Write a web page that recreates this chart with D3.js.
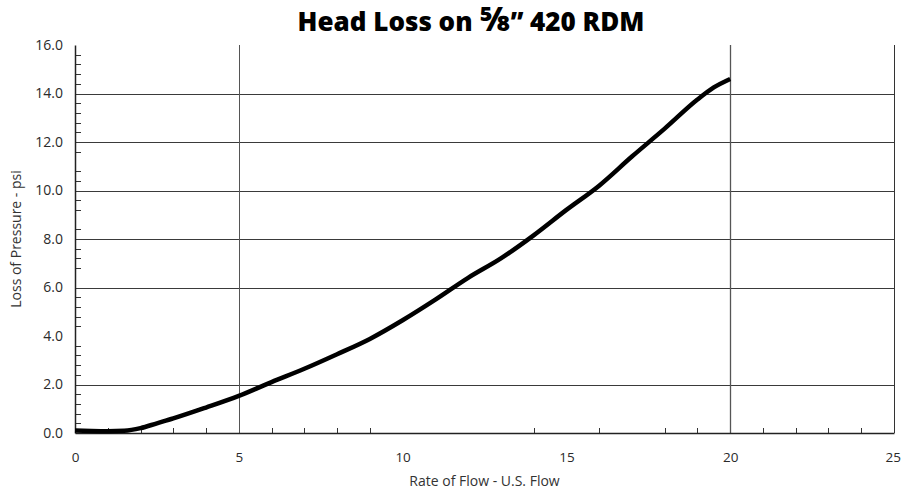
<!DOCTYPE html>
<html lang="en">
<head>
    <meta charset="UTF-8">
    <title>Head Loss on 5/8 420 RDM</title>
    <script src="https://d3js.org/d3.v7.min.js"></script>
    <style>
        body, html {
            margin: 0;
            padding: 0;
            background: #fff;
            overflow: hidden;
            font-family: "Open Sans", "Noto Sans", Arial, sans-serif;
        }
        svg { display: block; }
    </style>
</head>
<body>
    <div id="chart"></div>

    <script>
        // Data
        const flow = [0, 0.5, 1, 1.5, 2, 2.5, 3, 4, 5, 6, 7, 8, 9, 10, 11, 12, 13, 14, 15, 16, 17, 18, 19, 19.5, 20];
        const loss = [0.1, 0.08, 0.07, 0.09, 0.2, 0.4, 0.6, 1.05, 1.53, 2.1, 2.65, 3.25, 3.88, 4.65, 5.5, 6.4, 7.2, 8.15, 9.2, 10.2, 11.4, 12.55, 13.75, 14.25, 14.6];

        const xTickLabels = [0, 5, 10, 15, 20, 25];
        const yTickLabels = [0, 2, 4, 6, 8, 10, 12, 14, 16];
        const xGridValues = [5, 20, 25];
        const yGridValues = [2, 6, 8, 10, 12, 14];
        const xMinorTicks = [1, 2, 3, 4, 6, 7, 8, 9, 14, 16, 18, 19, 21, 22, 23, 24];
        const yMinorTicks = [0.4, 0.8, 1.2, 1.6, 2.4, 2.8, 3.2, 3.6, 4.4, 4.8, 5.2, 5.6,
            6.8, 7.2, 7.6, 8.4, 9.2, 9.6, 10.4, 10.8, 11.6, 12.4, 12.8, 13.2, 13.6,
            14.4, 14.8, 15.2, 15.6];

        const width = 901, height = 492;
        const margin = {top: 45, right: 7, bottom: 59, left: 75};
        const innerWidth = width - margin.left - margin.right;
        const innerHeight = height - margin.top - margin.bottom;
        const font = "'Open Sans', 'Noto Sans', sans-serif";

        const svg = d3.select("#chart").append("svg")
            .attr("width", width)
            .attr("height", height);

        const g = svg.append("g")
            .attr("transform", `translate(${margin.left},${margin.top})`);

        const x = d3.scaleLinear().domain([0, 25]).range([0, innerWidth]);
        const y = d3.scaleLinear().domain([0, 16]).range([innerHeight, 0]);

        // gridlines
        g.selectAll(".hgrid")
            .data(yGridValues)
            .enter().append("line")
            .attr("x1", 0)
            .attr("x2", innerWidth)
            .attr("y1", d => Math.round(y(d)) + 0.5)
            .attr("y2", d => Math.round(y(d)) + 0.5)
            .attr("stroke", "#3a3a3a")
            .attr("stroke-width", 1);

        g.selectAll(".vgrid")
            .data(xGridValues)
            .enter().append("line")
            .attr("x1", d => Math.round(x(d)) + 0.5)
            .attr("x2", d => Math.round(x(d)) + 0.5)
            .attr("y1", 0)
            .attr("y2", innerHeight)
            .attr("stroke", d => d === 25 ? "#333" : "#555")
            .attr("stroke-width", d => d === 20 ? 1.3 : 1);

        // minor ticks (pointing inward)
        g.selectAll(".xminor")
            .data(xMinorTicks)
            .enter().append("line")
            .attr("x1", d => Math.round(x(d)) + 0.5)
            .attr("x2", d => Math.round(x(d)) + 0.5)
            .attr("y1", innerHeight)
            .attr("y2", innerHeight - 5)
            .attr("stroke", "#333")
            .attr("stroke-width", 1);

        g.selectAll(".yminor")
            .data(yMinorTicks)
            .enter().append("line")
            .attr("x1", 0)
            .attr("x2", 6)
            .attr("y1", d => Math.round(y(d)) + 0.5)
            .attr("y2", d => Math.round(y(d)) + 0.5)
            .attr("stroke", "#333")
            .attr("stroke-width", 1);

        // axes
        const xAxis = g.append("g")
            .attr("transform", `translate(0,${innerHeight})`)
            .call(d3.axisBottom(x).tickValues(xTickLabels).tickSize(0).tickPadding(19).tickFormat(d3.format("d")))
            .attr("font-family", font)
            .attr("font-size", 13.5);
        const yAxis = g.append("g")
            .call(d3.axisLeft(y).tickValues(yTickLabels).tickSize(0).tickPadding(12).tickFormat(d3.format(".1f")))
            .attr("font-family", font)
            .attr("font-size", 14);

        // last label sits on the page edge: keep it inside
        xAxis.selectAll("text").filter(d => d === 25)
            .attr("text-anchor", "end")
            .attr("x", margin.right - 0.5);
        [xAxis, yAxis].forEach(a => {
            a.select(".domain").attr("stroke", "#222").attr("stroke-width", 1.5);
            a.selectAll("text").attr("fill", "#2a2a2a");
        });

        // curve
        const line = d3.line()
            .x((d, i) => x(flow[i]))
            .y(d => y(d))
            .curve(d3.curveMonotoneX);

        g.append("path")
            .datum(loss)
            .attr("fill", "none")
            .attr("stroke", "#000")
            .attr("stroke-width", 4.5)
            .attr("stroke-linejoin", "round")
            .attr("d", line);

        // title
        const title = svg.append("text")
            .attr("x", 471)
            .attr("y", 31)
            .attr("text-anchor", "middle")
            .attr("font-family", font)
            .attr("font-size", 26)
            .attr("font-weight", 800)
            .attr("fill", "#000");
        title.append("tspan").text("Head Loss on ");
        title.append("tspan").attr("font-size", 33).text("\u215D");
        title.append("tspan").text("\u201D 420 RDM");

        // axis titles
        svg.append("text")
            .attr("x", margin.left + innerWidth / 2)
            .attr("y", 486)
            .attr("text-anchor", "middle")
            .attr("font-family", font)
            .attr("font-size", 14)
            .attr("fill", "#333")
            .text("Rate of Flow - U.S. Flow");

        svg.append("text")
            .attr("transform", `translate(21,${margin.top + innerHeight / 2}) rotate(-90)`)
            .attr("text-anchor", "middle")
            .attr("font-family", font)
            .attr("font-size", 14)
            .attr("fill", "#333")
            .text("Loss of Pressure - psi");
    </script>
</body>
</html>
